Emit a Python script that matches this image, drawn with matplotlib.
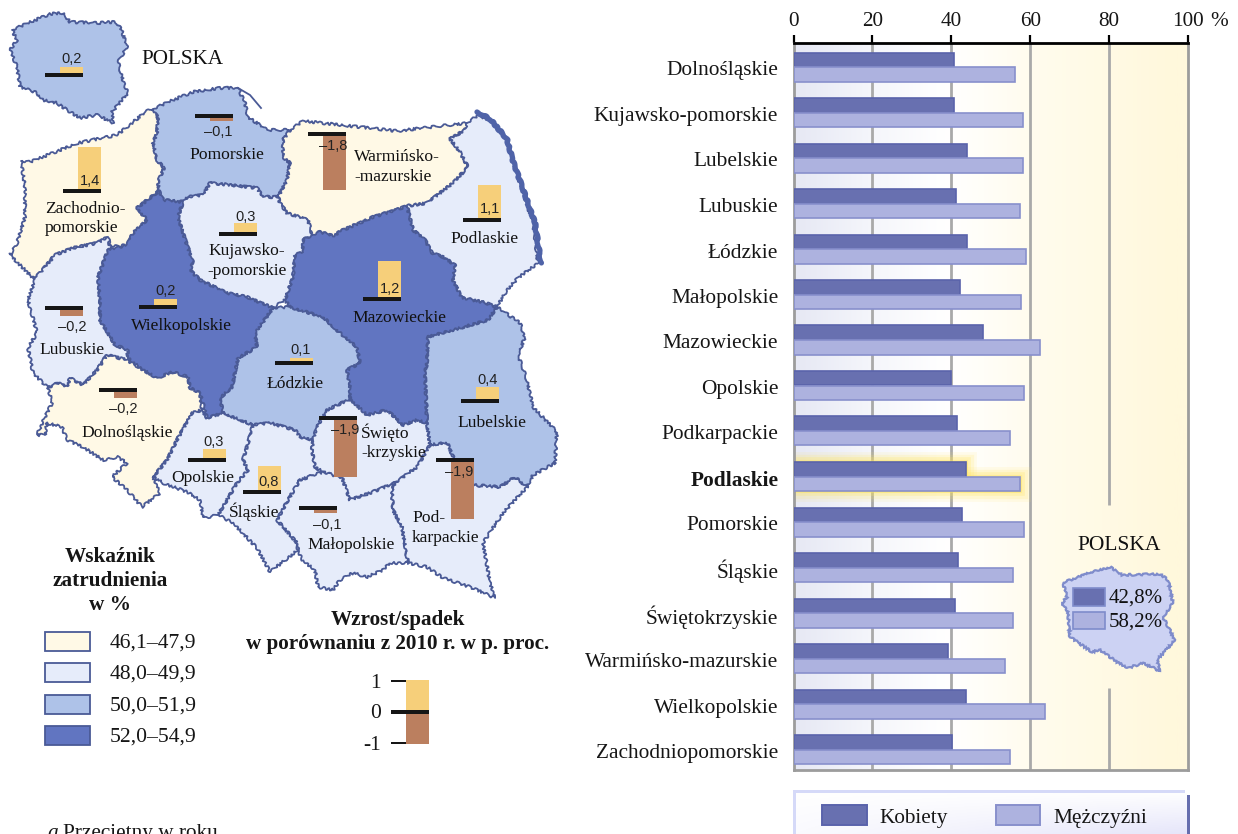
import matplotlib
matplotlib.use('Agg')
import matplotlib.pyplot as plt
import matplotlib.patheffects as pe
from matplotlib.patches import Rectangle
from matplotlib.transforms import ScaledTranslation
import numpy as np

SERIF = 'Liberation Serif'
SANS = 'Liberation Sans'

# wykres slupkowy
wojewodztwa = ['Dolnośląskie', 'Kujawsko-pomorskie', 'Lubelskie', 'Lubuskie', 'Łódzkie', 'Małopolskie',
               'Mazowieckie', 'Opolskie', 'Podkarpackie', 'Podlaskie', 'Pomorskie', 'Śląskie',
               'Świętokrzyskie', 'Warmińsko-mazurskie', 'Wielkopolskie', 'Zachodniopomorskie']
kobiety = [40.7, 40.7, 43.9, 41.2, 44.1, 42.3, 48.1, 40.0, 41.5, 43.6, 42.8, 41.6, 41.0, 39.2, 43.6, 40.3]
mezczyzni = [56.1, 58.1, 58.3, 57.5, 59.0, 57.7, 62.6, 58.4, 55.0, 57.4, 58.5, 55.7, 55.7, 53.5, 63.8, 54.8]
ticks_x = [0, 20, 40, 60, 80, 100]

# mapa: wartosci
regiony = ['POLSKA', 'Zach', 'Pom', 'Warm', 'Podl', 'Maz', 'Kuj', 'Wlkp', 'Lubu', 'Lodz', 'Lube', 'Dol', 'Swie',
           'Opol', 'Slas', 'Malo', 'Podk']
zmiana = [0.2, 1.4, -0.1, -1.8, 1.1, 1.2, 0.3, 0.2, -0.2, 0.1, 0.4, -0.2, -1.9, 0.3, 0.8, -0.1, -1.9]
zmiana_txt = ['0,2', '1,4', '–0,1', '–1,8', '1,1', '1,2', '0,3', '0,2', '–0,2', '0,1', '0,4', '–0,2', '–1,9',
              '0,3', '0,8', '–0,1', '–1,9']
# lewy koniec kreski i jej wysokosc (piksele)
kreska_x = [45, 63, 195, 308, 463, 363, 219, 139, 45, 275, 461, 99, 319, 188, 243, 299, 436]
kreska_y = [75, 191, 116, 134, 220, 299, 234, 307, 308, 363, 401, 390, 418, 460, 492, 508, 460]
opis_x = [72, 90, 218, 333, 490, 390, 246, 166, 72, 301, 488, 123, 345, 214, 269, 327, 459]
opis_y = [59, 181, 132, 146, 209, 289, 217, 291, 327, 350, 380, 409, 430, 442, 482, 525, 472]

skala_kolory = ['#fff9e6', '#e6ecfa', '#aec2e8', '#6175c1']
skala_opisy = ['46,1–47,9', '48,0–49,9', '50,0–51,9', '52,0–54,9']

# kontury wojewodztw (piksele obrazka)
zach = [(21,161),(30,162),(78,143),(117,135),(133,122),(147,111),(153,109),(158,118),(157,133),(153,143),(157,160),
        (164,168),(158,182),(159,191),(137,208),(147,220),(133,233),(127,245),(110,247),(108,237),(97,243),(73,248),
        (55,255),(40,273),(33,278),(10,255),(17,243),(25,217),(25,187)]
pom = [(153,109),(173,100),(193,92),(220,88),(238,88),(245,103),(248,117),(267,130),(290,130),(283,140),(283,157),
       (290,163),(287,180),(278,197),(263,197),(257,188),(230,185),(210,183),(203,195),(188,197),(183,202),(163,200),
       (159,191),(158,182),(164,168),(157,160),(153,143),(157,133),(158,118)]
warm = [(290,130),(303,121),(397,131),(467,123),(465,130),(450,139),(460,152),(468,167),(453,183),(427,203),(407,206),
        (390,212),(373,217),(360,223),(343,230),(333,236),(320,232),(312,235),(308,220),(287,213),(280,203),(278,197),
        (287,180),(290,163),(283,157),(283,140)]
podl = [(467,123),(477,116),(490,120),(507,140),(510,153),(533,223),(538,263),(518,278),(507,290),(497,307),(483,302),
        (462,298),(453,280),(455,265),(443,257),(432,253),(425,240),(413,230),(407,206),(427,203),(453,183),(468,167),
        (460,152),(450,139),(465,130)]
maz = [(312,235),(320,232),(333,236),(343,230),(360,223),(373,217),(390,212),(407,206),(413,230),(425,240),(432,253),
       (443,257),(455,265),(453,280),(462,298),(483,302),(497,307),(488,320),(460,328),(428,337),(427,363),(425,373),
       (427,423),(417,420),(403,425),(387,410),(367,415),(350,399),(350,387),(347,370),(360,363),(357,347),(340,333),
       (323,317),(290,307),(285,300),(293,277),(295,255),(303,252),(303,240)]
kuj = [(188,197),(203,195),(210,183),(230,185),(257,188),(263,197),(278,197),(280,203),(287,213),(308,220),(312,235),
       (303,240),(303,252),(295,255),(293,277),(285,300),(273,308),(247,297),(227,293),(200,280),(190,270),(193,263),
       (182,230),(178,217),(183,202)]
wlkp = [(159,191),(163,200),(183,202),(178,217),(182,230),(193,263),(190,270),(200,280),(227,293),(247,297),(273,308),
        (255,333),(257,347),(238,358),(232,387),(220,398),(223,413),(207,418),(200,393),(190,388),(188,377),(173,372),
        (157,378),(140,368),(127,357),(128,350),(115,345),(100,320),(100,303),(98,277),(108,250),(127,245),(133,233),
        (147,220),(137,208)]
lubu = [(33,278),(40,273),(55,255),(73,248),(97,243),(108,237),(110,247),(108,250),(98,277),(100,303),(100,320),
        (115,345),(128,350),(127,360),(107,355),(97,370),(83,385),(70,378),(67,387),(58,383),(48,388),(33,373),(28,348),
        (37,333),(28,300),(35,280)]
dol = [(48,388),(58,383),(67,387),(70,378),(83,385),(97,370),(107,355),(127,360),(140,368),(157,378),(173,372),
       (188,377),(190,388),(200,393),(202,410),(192,413),(177,440),(167,460),(153,477),(160,493),(142,507),(127,490),
       (112,477),(127,463),(117,457),(103,460),(83,447),(67,440),(62,427),(47,423),(45,435),(37,435),(45,417),(52,403)]
opol = [(207,418),(223,413),(253,425),(248,443),(243,460),(248,470),(237,483),(218,515),(203,518),(200,500),(187,492),
        (163,483),(153,477),(167,460),(177,440),(192,413),(202,410)]
lodz = [(273,308),(290,307),(323,317),(340,333),(357,347),(360,363),(347,370),(350,387),(350,399),(327,410),(317,427),
        (313,440),(300,437),(295,430),(270,423),(253,425),(223,413),(220,398),(232,387),(238,358),(257,347),(255,333)]
slas = [(253,425),(270,423),(295,430),(300,437),(313,440),(312,450),(315,467),(323,472),(300,480),(288,500),(277,520),
        (297,543),(298,550),(270,572),(257,548),(233,523),(218,515),(237,483),(248,470),(243,460),(248,443)]
swie = [(350,399),(367,415),(387,410),(403,425),(417,420),(427,423),(430,445),(417,467),(395,483),(370,493),(350,500),
        (342,478),(323,472),(315,467),(312,450),(313,440),(317,427),(327,410)]
malo = [(323,472),(342,478),(350,500),(370,493),(395,483),(392,490),(393,510),(402,527),(408,563),(390,563),(383,570),
        (367,577),(353,573),(340,580),(333,590),(318,587),(315,570),(302,560),(298,550),(297,543),(277,520),(288,500),
        (300,480)]
podk = [(395,483),(417,467),(430,445),(447,442),(452,455),(473,485),(500,487),(515,477),(527,487),(503,513),(483,543),
        (490,583),(495,598),(470,587),(443,578),(427,567),(408,563),(402,527),(393,510),(392,490)]
lube = [(428,337),(460,328),(488,320),(497,307),(520,323),(525,337),(518,355),(527,380),(533,407),(557,432),(555,463),
        (533,475),(527,487),(515,477),(500,487),(473,485),(452,455),(447,442),(430,445),(427,423),(425,373),(427,363)]
polska = [(12,30),(33,21),(50,14),(63,13),(70,22),(97,23),(113,22),(120,25),(127,47),(118,62),(125,87),(128,93),
          (112,112),(113,123),(97,115),(80,118),(67,110),(57,103),(43,100),(35,92),(20,87),(17,67),(10,50),(17,40)]
polska2 = [(1063,583),(1087,573),(1110,567),(1122,575),(1160,574),(1168,580),(1173,603),(1163,617),(1175,640),
           (1157,660),(1160,671),(1143,663),(1128,668),(1117,662),(1100,650),(1092,652),(1070,637),(1068,613),
           (1062,603),(1067,597)]
brzeg = [(477,112),(490,119),(507,139),(512,158),(535,223),(541,263)]
hel = [(238,88),(250,95),(261,108)]

kontury = [zach, pom, warm, podl, kuj, lubu, dol, opol, lodz, slas, swie, malo, podk, lube, maz, wlkp, polska]
klasy = [0, 2, 0, 1, 1, 1, 0, 1, 2, 1, 1, 1, 1, 2, 3, 3, 2]

nazwy = ['Pomorskie', 'Warmińsko-', '-mazurskie', 'Zachodnio-', 'pomorskie', 'Kujawsko-', '-pomorskie', 'Podlaskie',
         'Mazowieckie', 'Wielkopolskie', 'Lubuskie', 'Łódzkie', 'Lubelskie', 'Dolnośląskie', 'Święto', '-krzyskie',
         'Opolskie', 'Śląskie', 'Małopolskie', 'Pod-', 'karpackie']
nazwy_x = [227, 354, 354, 85, 82, 247, 247, 485, 399, 181, 72, 295, 492, 127, 361, 361, 203, 254, 351, 412, 412]
nazwy_y = [155, 157, 177, 209, 228, 251, 271, 239, 318, 326, 350, 384, 423, 433, 433, 453, 478, 512, 545, 518, 538]
nazwy_ha = ['center', 'left', 'left', 'center', 'center', 'center', 'center', 'center', 'center', 'center', 'center',
            'center', 'center', 'center', 'left', 'left', 'center', 'center', 'center', 'left', 'left']

W, H = 1238, 834
ZOLTY, BRAZ, CZARNY = '#f6cf7a', '#bb7f5f', '#161616'
KRAWEDZ = '#4a5a96'
PX = 30  # pikseli na punkt procentowy
Y0 = 67  # srodek pierwszego rzedu
KROK = 45.5

fig = plt.figure(figsize=(W / 100, H / 100), dpi=100)
ax = fig.add_axes([0, 0, 1, 1])
ax.set_xlim(0, W)
ax.set_ylim(H, 0)
ax.axis('off')

############ mapa
for kontur, k in zip(kontury, klasy):
    ax.fill(*zip(*kontur), facecolor=skala_kolory[k], edgecolor='none', zorder=1.5)
for kontur, k in zip(kontury, klasy):
    p = ax.fill(*zip(*kontur), facecolor=skala_kolory[k], edgecolor=KRAWEDZ, linewidth=1.3, joinstyle='round', zorder=2)
    p[0].set_sketch_params(scale=1.3, length=9, randomness=5)
b = ax.plot(*zip(*brzeg), color='#4f63a8', linewidth=3.8, zorder=3, solid_capstyle='round')
b[0].set_sketch_params(scale=0.8, length=12, randomness=4)
ax.plot(*zip(*hel), color=KRAWEDZ, linewidth=1.3, zorder=3)

for x0, y0, v, t, ox, oy in zip(kreska_x, kreska_y, zmiana, zmiana_txt, opis_x, opis_y):
    start = y0 - 2 if v > 0 else y0 + 2
    ax.add_patch(Rectangle((x0 + 15, start), 23, -v * PX, facecolor=ZOLTY if v > 0 else BRAZ, zorder=4))
    ax.add_patch(Rectangle((x0, y0 - 2), 38, 4, facecolor=CZARNY, zorder=5))
    ax.text(ox, oy, t, family=SANS, fontsize=10.5, color='#222222', ha='center', va='center', zorder=6)

for n, x, y, ha in zip(nazwy, nazwy_x, nazwy_y, nazwy_ha):
    ax.text(x, y, n, family=SERIF, fontsize=12.6, color='#111111', ha=ha, va='center', zorder=6)
ax.text(141, 59, 'POLSKA', family=SERIF, fontsize=15.2, color='#111111', va='center')

############ legenda mapy
for i, t in enumerate(['Wskaźnik', 'zatrudnienia', 'w %']):
    ax.text(110, 557 + 24 * i, t, family=SERIF, fontsize=15.3, weight='bold', color='#161616', ha='center', va='center')
for i, (c, t) in enumerate(zip(skala_kolory, skala_opisy)):
    ax.add_patch(Rectangle((45, 632 + 31.3 * i), 45, 19, facecolor=c, edgecolor=KRAWEDZ, linewidth=1.3))
    ax.text(110, 643 + 31.3 * i, t, family=SERIF, fontsize=15.6, color='#161616', va='center')

ax.text(398, 620, 'Wzrost/spadek', family=SERIF, fontsize=15.2, weight='bold', color='#161616', ha='center', va='center')
ax.text(398, 644, 'w porównaniu z 2010 r. w p. proc.', family=SERIF, fontsize=15.2, weight='bold', color='#161616',
        ha='center', va='center')
ax.add_patch(Rectangle((406, 680), 23, 32, facecolor=ZOLTY))
ax.add_patch(Rectangle((406, 712), 23, 32, facecolor=BRAZ))
ax.add_patch(Rectangle((391, 710), 38, 4, facecolor=CZARNY))
ax.add_patch(Rectangle((391, 680), 15, 2, facecolor=CZARNY))
ax.add_patch(Rectangle((391, 742), 15, 2, facecolor=CZARNY))
for t, y in zip(['1', '0', '-1'], [683, 713, 745]):
    ax.text(381, y, t, family=SERIF, fontsize=15.5, color='#161616', ha='right', va='center')

ax.text(47, 838, 'a', family=SERIF, fontsize=15.3, style='italic', color='#161616')
ax.text(63, 838, 'Przeciętny w roku', family=SERIF, fontsize=15.3, color='#161616')

############ wykres
bx = fig.add_axes([793.5 / W, 1 - 770 / H, (1188 - 793.5) / W, (770 - 43) / H])
rzedy = np.arange(len(wojewodztwa))
bx.set_xlim(0, 100)
dol_y, gora_y = (770 - Y0) / KROK, (43 - Y0) / KROK
bx.set_ylim(dol_y, gora_y)

kolory_t = np.array([0, 20, 38, 48, 60, 96, 100]) / 100
stop = np.array([[230, 232, 244], [245, 246, 251], [255, 255, 255], [255, 254, 248], [255, 252, 238], [255, 248, 220],
                 [255, 248, 220]]) / 255
xs = np.linspace(0, 1, 400)
tlo = np.stack([np.interp(xs, kolory_t, stop[:, j]) for j in range(3)], axis=1)[None, :, :]
bx.imshow(tlo, extent=(0, 100, dol_y, gora_y), aspect='auto', zorder=0)

bx.vlines(ticks_x[1:-2], dol_y, gora_y, color='#a9a9a9', linewidth=2, zorder=1)
# linia 80 przerwana przy mapce POLSKA
bx.vlines(80, (505 - Y0) / KROK, gora_y, color='#a9a9a9', linewidth=2, zorder=1)
bx.vlines(80, dol_y, (688 - Y0) / KROK, color='#a9a9a9', linewidth=2, zorder=1)

wys = 14.5 / KROK
glow = []
for w_, a_ in zip([15, 11, 7, 3], [0.10, 0.16, 0.24, 0.35]):
    glow.append(pe.Stroke(linewidth=w_, foreground='#ffe55c', alpha=a_))
i_pod = wojewodztwa.index('Podlaskie')
for r_v, r_y in ((kobiety[i_pod], i_pod - wys / 2), (mezczyzni[i_pod], i_pod + wys / 2)):
    p = Rectangle((0, r_y - wys / 2), r_v, wys, facecolor='#ffe55c', edgecolor='#ffe55c', linewidth=1, zorder=2)
    p.set_path_effects(glow + [pe.Normal()])
    bx.add_patch(p)
bx.barh(rzedy - wys / 2, kobiety, height=wys, color='#6870b0', edgecolor='#5a63ab', linewidth=1.2, zorder=3)
bx.barh(rzedy + wys / 2, mezczyzni, height=wys, color='#adb2df', edgecolor='#8890cc', linewidth=1.2, zorder=3)

bx.xaxis.tick_top()
bx.set_xticks(ticks_x)
bx.set_xticklabels([str(t) for t in ticks_x], family=SERIF, fontsize=15.3, color='#161616')
bx.tick_params(axis='x', length=6, width=1.6, color='black', pad=3)
bx.set_yticks(rzedy)
bx.set_yticklabels(wojewodztwa, family=SERIF, fontsize=15.4, color='#161616')
bx.tick_params(axis='y', length=0, pad=11)
przes = ScaledTranslation(0, -1.5 / 100, fig.dpi_scale_trans)
for t in bx.get_yticklabels():
    t.set_transform(t.get_transform() + przes)
    if t.get_text() == 'Podlaskie':
        t.set_fontweight('bold')
for s in ['left', 'right', 'bottom']:
    bx.spines[s].set_color('#9c9c9c')
    bx.spines[s].set_linewidth(2)
bx.spines['top'].set_color('black')
bx.spines['top'].set_linewidth(2)

############ nad wykresem
ax2 = fig.add_axes([0, 0, 1, 1], facecolor='none')
ax2.set_xlim(0, W)
ax2.set_ylim(H, 0)
ax2.axis('off')
ax2.text(1210, 21, '%', family=SERIF, fontsize=15.3, color='#161616', va='center')
ax2.text(1119, 545, 'POLSKA', family=SERIF, fontsize=15.5, color='#111111', ha='center', va='center')
m2 = ax2.fill(*zip(*polska2), facecolor='#ccd2f3', edgecolor='#7f8ccb', linewidth=1.6)
m2[0].set_sketch_params(scale=1.0, length=7, randomness=5)
ax2.add_patch(Rectangle((1073, 588), 32, 18, facecolor='#6870b0', edgecolor='#7f8ccb', linewidth=1.2))
ax2.add_patch(Rectangle((1073, 612), 32, 17, facecolor='#adb2df', edgecolor='#7f8ccb', linewidth=1.2))
ax2.text(1109, 598, '42,8%', family=SERIF, fontsize=15, color='#111111', va='center')
ax2.text(1109, 622, '58,2%', family=SERIF, fontsize=15, color='#111111', va='center')

# legenda dolna
tlo_leg = np.linspace(0, 1, 100)[:, None] * np.linspace(0.2, 1, 100)[None, :]
rgb = np.stack([1 - 0.1 * tlo_leg, 1 - 0.1 * tlo_leg, 1 - 0.02 * tlo_leg], axis=2)
ax2.imshow(rgb, extent=(795, 1187, 834, 791), aspect='auto', zorder=1)
ax2.set_xlim(0, W)
ax2.set_ylim(H, 0)
ax2.add_patch(Rectangle((793, 790), 392, 3, facecolor='#d5d9f8', zorder=2))
ax2.add_patch(Rectangle((793, 790), 3, 44, facecolor='#d5d9f8', zorder=2))
ax2.add_patch(Rectangle((1187, 795), 3, 39, facecolor='#666eae', zorder=2))
ax2.add_patch(Rectangle((822, 805), 45, 20, facecolor='#6870b0', edgecolor='#5a63ab', linewidth=1.4, zorder=3))
ax2.add_patch(Rectangle((996, 805), 44, 20, facecolor='#adb2df', edgecolor='#8890cc', linewidth=1.4, zorder=3))
ax2.text(879, 818, 'Kobiety', family=SERIF, fontsize=15.3, color='#161616', va='center', zorder=3)
ax2.text(1053, 818, 'Mężczyźni', family=SERIF, fontsize=15.4, color='#161616', va='center', zorder=3)

fig.savefig('out.png', dpi=100)
